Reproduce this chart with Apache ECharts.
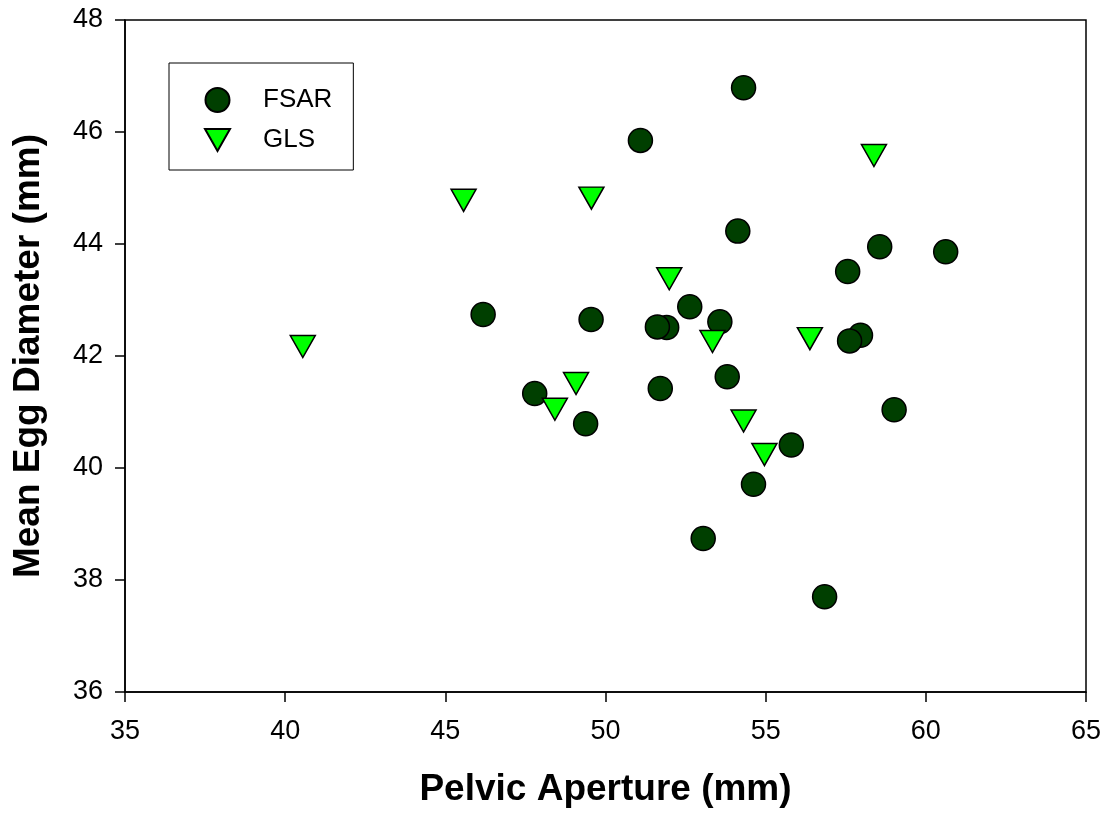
<!DOCTYPE html>
<html>
<head>
<meta charset="utf-8">
<script src="https://cdn.jsdelivr.net/npm/echarts@6/dist/echarts.min.js"></script>
<style>
  html, body { margin: 0; padding: 0; background: #fff; }
  #chart { width: 1108px; height: 815px; }
</style>
</head>
<body>
<div id="chart"></div>
<script>
// pelvic aperture (mm), mean egg diameter (mm)
const fsarX = [54.31, 51.09, 54.13, 58.56, 60.62, 57.56, 52.63, 46.18, 49.55, 53.57, 51.91, 51.62, 57.96, 57.62, 59.01, 55.80, 54.62, 53.80, 51.71, 53.05, 56.84, 47.79, 49.38]
const fsarY = [46.79, 45.85, 44.23, 43.95, 43.86, 43.51, 42.88, 42.74, 42.65, 42.61, 42.51, 42.52, 42.37, 42.27, 41.04, 40.41, 39.71, 41.63, 41.42, 38.74, 37.70, 41.33, 40.79]

const glsX = [45.57, 49.56, 51.99, 58.38, 56.38, 54.96, 54.31, 53.34, 40.55, 49.08, 48.42]
const glsY = [44.78, 44.82, 43.38, 45.58, 42.31, 40.24, 40.84, 42.26, 42.17, 41.51, 41.05]

const xTicks = [35, 40, 45, 50, 55, 60, 65]
const yTicks = [36, 38, 40, 42, 44, 46, 48]

const font = 'Arial, "Liberation Sans", sans-serif'
const downTriangle = 'path://M0,0 L25,0 L12.5,22 Z'

const chart = echarts.init(document.getElementById('chart'))

const axisCommon = {
  axisLine: { show: true, onZero: false, lineStyle: { color: '#000', width: 1.5 } },
  axisTick: { show: true, inside: false, length: 10, lineStyle: { color: '#000', width: 1.5 } },
  splitLine: { show: false },
  nameLocation: 'middle',
  nameTextStyle: { color: '#000', fontSize: 37, fontWeight: 'bold', fontFamily: font }
}

chart.setOption({
  animation: false,
  backgroundColor: '#fff',
  grid: {
    left: 125, right: 22, top: 20, bottom: 123,
    containLabel: false, outerBoundsMode: 'none',
    show: true, borderColor: '#000', borderWidth: 1.5
  },
  legend: {
    orient: 'vertical',
    left: 169,
    top: 63,
    padding: [24, 21, 17, 35],
    itemWidth: 25,
    itemHeight: 24,
    itemGap: 14,
    borderColor: '#000',
    borderWidth: 1,
    textStyle: { color: '#000', fontSize: 26, fontFamily: font, lineHeight: 24, padding: [0, 0, 0, 28] },
    data: [
      { name: 'FSAR', icon: 'circle' },
      { name: 'GLS', icon: downTriangle }
    ]
  },
  xAxis: {
    ...axisCommon,
    type: 'value',
    min: xTicks[0],
    max: xTicks[xTicks.length - 1],
    interval: 5,
    name: 'Pelvic Aperture (mm)',
    nameGap: 79,
    axisLabel: { color: '#000', fontSize: 27, fontFamily: font, margin: 26 }
  },
  yAxis: {
    ...axisCommon,
    type: 'value',
    min: yTicks[0],
    max: yTicks[yTicks.length - 1],
    interval: 2,
    name: 'Mean Egg Diameter (mm)',
    nameGap: 78,
    axisLabel: { color: '#000', fontSize: 27, fontFamily: font, margin: 22 }
  },
  series: [
    {
      name: 'FSAR',
      type: 'scatter',
      symbol: 'circle',
      symbolSize: 24,
      itemStyle: { color: '#003f00', borderColor: '#000', borderWidth: 1.5, opacity: 1 },
      data: fsarX.map((x, i) => [x, fsarY[i]])
    },
    {
      name: 'GLS',
      type: 'scatter',
      symbol: 'triangle',
      symbolRotate: 180,
      symbolSize: [25, 22],
      itemStyle: { color: '#00ff00', borderColor: '#000', borderWidth: 1.5, opacity: 1 },
      data: glsX.map((x, i) => [x, glsY[i]])
    }
  ]
})
</script>
</body>
</html>
